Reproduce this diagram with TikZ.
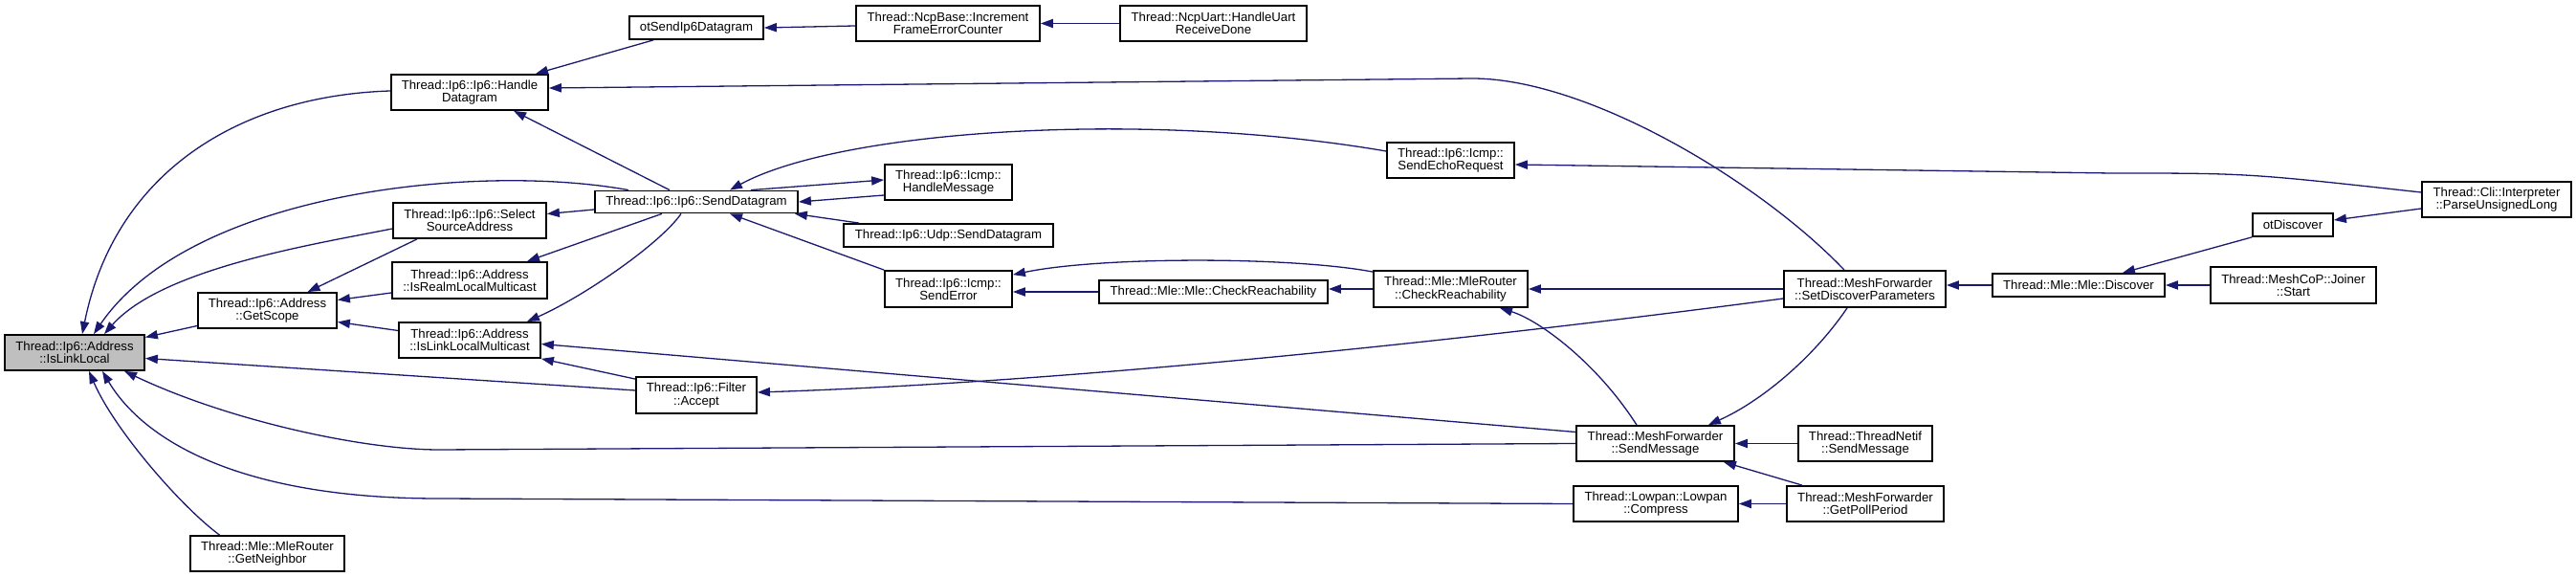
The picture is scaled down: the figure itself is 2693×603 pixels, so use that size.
\documentclass[tikz,border=0pt]{standalone}
\usepackage{fontspec}
\setmainfont{Liberation Sans}
\usetikzlibrary{arrows.meta,calc}
\definecolor{edgec}{HTML}{191970}
\definecolor{boxgray}{HTML}{BFBFBF}
\begin{document}
\begin{tikzpicture}[x=0.5pt,y=-0.5pt,
  box/.style={draw=black, line width=0.9pt, fill=white, inner sep=0pt, align=center,
    font=\fontsize{6.6}{6.7}\selectfont},
  wh/.style 2 args={minimum width=#1*0.5pt, minimum height=#2*0.5pt},
  edge/.style={draw=edgec, line width=0.65pt, -{Triangle[length=6.5pt,width=4.6pt]}}]
\useasboundingbox (0,0) rectangle (2693,603);
% nodes
\node[box,wh={140}{24}] (otsend) at (728,29) {otSendIp6Datagram};
\node[box,wh={164}{37}] (hd) at (491,96.5) {Thread::Ip6::Ip6::Handle\\Datagram};
\node[box,wh={212}{23}] (sd) at (728,211) {Thread::Ip6::Ip6::SendDatagram};
\node[box,wh={160}{37}] (ssa) at (491,230.5) {Thread::Ip6::Ip6::Select\\SourceAddress};
\node[box,wh={162}{38}] (irlm) at (491,293) {Thread::Ip6::Address\\::IsRealmLocalMulticast};
\node[box,wh={145}{37}] (gs) at (279.5,324.5) {Thread::Ip6::Address\\::GetScope};
\node[box,wh={148}{37}] (illm) at (491,355.5) {Thread::Ip6::Address\\::IsLinkLocalMulticast};
\node[box,wh={126}{38}] (acc) at (728,413) {Thread::Ip6::Filter\\::Accept};
\node[box,wh={146}{37},fill=boxgray] (ill) at (78,368.5) {Thread::Ip6::Address\\::IsLinkLocal};
\node[box,wh={161}{37}] (gn) at (279.5,578.5) {Thread::Mle::MleRouter\\::GetNeighbor};
\node[box,wh={192}{37}] (ifec) at (991,24.5) {Thread::NcpBase::Increment\\FrameErrorCounter};
\node[box,wh={195}{37}] (hurd) at (1268.5,24.5) {Thread::NcpUart::HandleUart\\ReceiveDone};
\node[box,wh={133}{37}] (ser) at (1516.5,167.5) {Thread::Ip6::Icmp::\\SendEchoRequest};
\node[box,wh={133}{37}] (hm) at (991.5,190.5) {Thread::Ip6::Icmp::\\HandleMessage};
\node[box,wh={219}{24}] (udp) at (991.5,246) {Thread::Ip6::Udp::SendDatagram};
\node[box,wh={133}{38}] (se) at (991.5,302) {Thread::Ip6::Icmp::\\SendError};
\node[box,wh={239}{24}] (mcr) at (1268.5,305) {Thread::Mle::Mle::CheckReachability};
\node[box,wh={161}{38}] (mrcr) at (1516.5,302) {Thread::Mle::MleRouter\\::CheckReachability};
\node[box,wh={165}{37}] (sm) at (1730.5,463.5) {Thread::MeshForwarder\\::SendMessage};
\node[box,wh={172}{37}] (cmp) at (1731,526.5) {Thread::Lowpan::Lowpan\\::Compress};
\node[box,wh={169}{38}] (sdp) at (1949.5,302) {Thread::MeshForwarder\\::SetDiscoverParameters};
\node[box,wh={180}{24}] (disc) at (2173,298) {Thread::Mle::Mle::Discover};
\node[box,wh={173}{38}] (join) at (2397.5,298) {Thread::MeshCoP::Joiner\\::Start};
\node[box,wh={84}{24}] (otd) at (2397,235) {otDiscover};
\node[box,wh={156}{37}] (pul) at (2610,208.5) {Thread::Cli::Interpreter\\::ParseUnsignedLong};
\node[box,wh={140}{37}] (tn) at (1950,463.5) {Thread::ThreadNetif\\::SendMessage};
\node[box,wh={164}{37}] (gpp) at (1950,526.5) {Thread::MeshForwarder\\::GetPollPeriod};
% edges into IsLinkLocal
\draw[edge] ($(hd.west)+(0,-1.5)$) .. controls (250,100) and (120,180) .. ($(ill.north)+(8,0)$);
\draw[edge] ($(sd.north)+(-71,0)$) .. controls (500,170) and (200,200) .. ($(ill.north)+(20,0)$);
\draw[edge] ($(ssa.west)+(0,8.5)$) .. controls (330,255) and (170,280) .. ($(ill.north)+(31,0)$);
\draw[edge] ($(gs.west)+(0,16)$) -- ($(ill.east)+(0,-16)$);
\draw[edge] ($(acc.west)+(0,-5)$) -- ($(ill.east)+(0,6)$);
\draw[edge] (sm.west) -- (459,470) .. controls (380,470) and (240,440) .. ($(ill.south)+(52,0)$);
\draw[edge] (cmp.west) -- (459,521) .. controls (250,521) and (150,460) .. ($(ill.south)+(29,0)$);
\draw[edge] ($(gn.north)+(-50,0)$) .. controls (190,530) and (120,450) .. ($(ill.south)+(15,0)$);
% GetScope
\draw[edge] ($(ssa.south)+(-55,0)$) -- ($(gs.north)+(42,0)$);
\draw[edge] ($(irlm.west)+(0,13)$) -- ($(gs.east)+(0,-11)$);
\draw[edge] ($(illm.west)+(0,-10)$) -- ($(gs.east)+(0,12)$);
% SelectSourceAddress, IsRealmLocalMulticast, IsLinkLocalMulticast
\draw[edge] ($(sd.west)+(0,8)$) -- ($(ssa.east)+(0,-7)$);
\draw[edge] ($(sd.south)+(-36,0)$) -- ($(irlm.north)+(60,0)$);
\draw[edge] ($(sd.south)+(-16,0)$) .. controls (690,255) and (610,310) .. ($(illm.north)+(60,0)$);
\draw[edge] ($(acc.north west)+(0,3)$) -- (illm.south east);
\draw[edge] ($(sm.west)+(0,-12)$) -- ($(illm.east)+(0,4)$);
% HandleDatagram
\draw[edge] ($(otsend.south)+(-45,0)$) -- ($(hd.north)+(69,0)$);
\draw[edge] ($(sdp.north)+(-21.5,0)$) .. controls (1840,190) and (1660,82) .. (1539,82) -- ($(hd.east)+(0,-4.5)$);
\draw[edge] ($(sd.north)+(-28,0)$) -- ($(hd.south)+(46,0)$);
% otSendIp6Datagram, IncrementFrameErrorCounter
\draw[edge] ($(ifec.west)+(0,2.5)$) -- (otsend.east);
\draw[edge] (hurd.west) -- (ifec.east);
% SendDatagram
\draw[edge] ($(ser.west)+(0,-9.5)$) .. controls (1200,115) and (880,135) .. ($(sd.north)+(35,0)$);
\draw[edge] ($(hm.west)+(0,13.5)$) -- (sd.east);
\draw[edge] ($(sd.north east)+(-50,0)$) -- ($(hm.west)+(0,-2.5)$);
\draw[edge] ($(udp.north west)+(17,0)$) -- ($(sd.south east)+(-4,0)$);
\draw[edge] (se.north west) -- ($(sd.south)+(35,0)$);
% SendError, CheckReachability
\draw[edge] (mcr.west) -- (mcr.west -| se.east);
\draw[edge] ($(mrcr.north west)+(0,2)$) .. controls (1350,268) and (1150,268) .. ($(se.north east)+(0,5)$);
\draw[edge] (mrcr.west) -- (mrcr.west -| mcr.east);
\draw[edge] (sdp.west) -- (mrcr.east);
\draw[edge] ($(sm.north)+(-19.5,0)$) .. controls (1670,380) and (1610,335) .. ($(mrcr.south)+(51.5,0)$);
% SendEchoRequest
\draw[edge] ($(pul.west)+(0,-7.5)$) .. controls (2350,181) .. (2207,181) -- ($(ser.east)+(0,4.5)$);
% Filter::Accept
\draw[edge] ($(sdp.west)+(0,10)$) .. controls (1500,360) and (1100,400) .. ($(acc.east)+(0,-3)$);
% SetDiscoverParameters, SendMessage, Compress
\draw[edge] (disc.west) -- (disc.west -| sdp.east);
\draw[edge] ($(sdp.south)+(-18.5,0)$) .. controls (1895,375) and (1840,420) .. ($(sm.north east)+(-28,0)$);
\draw[edge] (tn.west) -- (sm.east);
\draw[edge] ($(gpp.north)+(-66,0)$) -- ($(sm.south east)+(-12,0)$);
\draw[edge] (gpp.west) -- (cmp.east);
% Discover, otDiscover
\draw[edge] (otd.south west) -- ($(disc.north)+(46,0)$);
\draw[edge] (join.west) -- (disc.east);
\draw[edge] ($(pul.west)+(0,9.5)$) -- ($(otd.east)+(0,-5)$);
\end{tikzpicture}
\end{document}
